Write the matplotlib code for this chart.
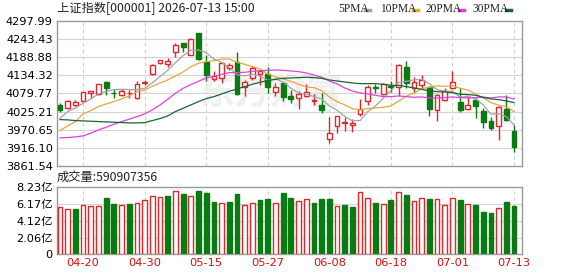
import numpy as np
import matplotlib
matplotlib.use('Agg')
import matplotlib.pyplot as plt
from matplotlib.lines import Line2D

# daily K-line (60 sessions)
opens = [4044, 4036, 4046, 4058, 4080, 4078, 4113, 4082, 4076, 4080,
         4066, 4110, 4138, 4170, 4167, 4203, 4231, 4196, 4260, 4174,
         4123, 4126, 4155, 4173, 4099, 4126, 4138, 4139, 4084, 4111,
         4071, 4065, 4071, 4056, 4046, 3942, 3983, 3990, 3986, 4019,
         4056, 4099, 4078, 4101, 4100, 4159, 4096, 4106, 4099, 4029,
         4061, 4097, 4054, 4034, 4061, 4026, 3998, 3983, 4034, 3968]
highs = [4051, 4061, 4060, 4084, 4088, 4109, 4118, 4094, 4094, 4091,
         4116, 4120, 4169, 4181, 4185, 4232, 4232, 4246, 4262, 4194,
         4146, 4173, 4170, 4203, 4119, 4161, 4152, 4160, 4111, 4113,
         4091, 4086, 4108, 4078, 4081, 4009, 4013, 4010, 4003, 4063,
         4106, 4109, 4111, 4118, 4168, 4177, 4128, 4135, 4101, 4079,
         4095, 4146, 4096, 4072, 4066, 4036, 4010, 4042, 4076, 3984]
lows = [4024, 4033, 4041, 4056, 4066, 4076, 4075, 4066, 4071, 4066,
        4064, 4104, 4134, 4168, 4159, 4190, 4204, 4194, 4180, 4117,
        4116, 4111, 4150, 4076, 4071, 4120, 4106, 4082, 4071, 4056,
        4051, 4034, 4070, 4046, 4020, 3931, 3961, 3966, 3964, 4011,
        4045, 4081, 4076, 4083, 4072, 4095, 4080, 4094, 4011, 3996,
        4057, 4094, 4025, 4031, 4007, 3976, 3971, 3941, 3996, 3903]
closes = [4031, 4058, 4055, 4083, 4087, 4108, 4096, 4080, 4088, 4082,
          4109, 4114, 4164, 4179, 4177, 4226, 4219, 4244, 4183, 4136,
          4133, 4171, 4164, 4078, 4114, 4156, 4148, 4098, 4099, 4068,
          4064, 4077, 4083, 4059, 4031, 3962, 4011, 3993, 3990, 4032,
          4099, 4096, 4108, 4098, 4166, 4112, 4114, 4120, 4032, 4076,
          4088, 4114, 4030, 4046, 4043, 3993, 3975, 4040, 3999, 3918]
prev_close = 4020

# volume in 亿
volumes = [5.77, 5.53, 5.53, 6.05, 5.93, 5.93, 6.91, 6.18, 6.05, 6.18,
           6.26, 6.67, 7.16, 7.00, 7.16, 7.74, 7.40, 7.16, 7.77, 7.53,
           6.42, 6.30, 6.42, 7.40, 6.05, 6.26, 6.67, 6.79, 6.30, 7.53,
           6.95, 6.55, 6.79, 6.30, 6.79, 6.79, 5.93, 6.05, 5.85, 7.61,
           6.91, 6.30, 6.18, 6.67, 7.65, 7.32, 6.55, 6.87, 6.79, 6.79,
           6.05, 6.91, 6.67, 6.18, 6.05, 5.19, 5.07, 5.69, 6.42, 5.91]
last_volume = 590907356

# moving averages
ma5 = [4005, 4025, 4036, 4050, 4063, 4078, 4086, 4091, 4092, 4091,
       4091, 4095, 4111, 4130, 4149, 4172, 4193, 4209, 4210, 4202,
       4183, 4173, 4157, 4136, 4132, 4137, 4132, 4119, 4123, 4114,
       4095, 4081, 4078, 4070, 4063, 4042, 4029, 4011, 3997, 3998,
       4025, 4042, 4065, 4087, 4113, 4116, 4120, 4122, 4109, 4091,
       4086, 4086, 4068, 4071, 4064, 4045, 4017, 4019, 4010, 3985]
ma10 = [3968, 3982, 3995, 4018, 4028, 4040, 4048, 4055, 4063, 4072,
        4085, 4090, 4101, 4111, 4120, 4132, 4144, 4160, 4170, 4175,
        4178, 4183, 4183, 4173, 4167, 4160, 4153, 4138, 4130, 4123,
        4116, 4107, 4099, 4097, 4088, 4069, 4055, 4045, 4034, 4030,
        4034, 4036, 4038, 4042, 4056, 4071, 4081, 4094, 4098, 4102,
        4101, 4103, 4095, 4090, 4078, 4066, 4052, 4044, 4040, 4025]
ma20 = [3946, 3947, 3949, 3952, 3960, 3970, 3978, 3987, 3995, 4002,
        4010, 4018, 4030, 4045, 4062, 4080, 4095, 4106, 4116, 4126,
        4131, 4137, 4142, 4142, 4143, 4146, 4148, 4149, 4150, 4149,
        4147, 4145, 4141, 4135, 4128, 4117, 4108, 4096, 4087, 4081,
        4078, 4074, 4070, 4070, 4072, 4070, 4068, 4069, 4066, 4066,
        4067, 4069, 4067, 4066, 4067, 4068, 4066, 4069, 4069, 4063]
ma30 = [4001, 4000, 3998, 3997, 3996, 3995, 3994, 3993, 3992, 3991,
        3991, 3992, 3998, 4004, 4012, 4025, 4035, 4045, 4055, 4064,
        4070, 4078, 4086, 4093, 4100, 4107, 4113, 4118, 4122, 4125,
        4126, 4127, 4128, 4127, 4125, 4120, 4117, 4114, 4111, 4109,
        4109, 4109, 4107, 4104, 4104, 4100, 4096, 4092, 4087, 4085,
        4084, 4082, 4077, 4076, 4074, 4068, 4063, 4061, 4057, 4052]

tick_idx = [3, 11, 19, 27, 35, 43, 51, 59]
tick_labels = ['04-20', '04-30', '05-15', '05-27', '06-08', '06-18', '07-01', '07-13']
price_ticks = [3861.54, 3916.10, 3970.65, 4025.21, 4079.77, 4134.32, 4188.88, 4243.43, 4297.99]
vol_ticks = [0, 2.06, 4.12, 6.17, 8.23]

RED = '#e0262b'
GREEN = '#0a7a12'
GRID = '#d4d4d4'
BOX = '#9a9a9a'
FONT = ['DejaVu Sans', 'Noto Sans CJK SC']
CJK = ['Noto Sans CJK SC', 'DejaVu Sans']

o = np.array(opens, float)
h = np.array(highs, float)
l = np.array(lows, float)
c = np.array(closes, float)
x = np.arange(len(c))
up = c >= o
vol_up = c >= np.concatenate([[prev_close], c[:-1]])

W, H = 578, 276
fig = plt.figure(figsize=(W / 100, H / 100), dpi=100)
ax = fig.add_axes([57 / W, 1 - 166 / H, 465 / W, 145.3 / H])
axv = fig.add_axes([57 / W, 1 - 254.3 / H, 465 / W, 67 / H])

for a in (ax, axv):
    a.set_xlim(-0.39, 60.04)
    for s in a.spines.values():
        s.set_color(BOX)
        s.set_linewidth(1)
    a.tick_params(length=0, labelsize=8.2, pad=3)
    for t in tick_idx:
        a.axvline(t, color='#cccccc', lw=0.8, ls=(0, (3, 3)), zorder=1)

# price panel
ax.set_ylim(price_ticks[0], price_ticks[-1])
ax.set_yticks(price_ticks)
ax.set_yticklabels(['%.2f' % v for v in price_ticks], family=FONT)
ax.set_xticks([])
for v in price_ticks[1:-1]:
    ax.axhline(v, color=GRID, lw=0.8, zorder=1)

ax.text(0.46, 0.5, '东方财富', transform=ax.transAxes, ha='center', va='center',
        fontsize=26, color='#f0f0f0', fontweight='bold', family=CJK, zorder=1.5)

cols = np.where(up, RED, GREEN)
ax.vlines(x, l, h, colors=cols, lw=1, zorder=3)
body_h = np.maximum(np.abs(c - o), 0.8)
ax.bar(x, body_h, bottom=np.minimum(o, c), width=0.62,
       color=np.where(up, 'white', GREEN), edgecolor=cols, linewidth=1, zorder=4)

ax.plot(x, ma5, color='#a3a3a3', lw=0.9, zorder=5)
ax.plot(x, ma10, color='#e8a53a', lw=0.9, zorder=5)
ax.plot(x, ma20, color='#e23fe2', lw=0.9, zorder=5)
ax.plot(x, ma30, color='#13663a', lw=0.9, zorder=5)

# volume panel
axv.set_ylim(0, vol_ticks[-1])
axv.set_yticks(vol_ticks)
axv.set_yticklabels(['0'] + ['%.2f亿' % v for v in vol_ticks[1:]], family=FONT)
for v in vol_ticks[1:-1]:
    axv.axhline(v, color=GRID, lw=0.8, zorder=1)
vcols = np.where(vol_up, RED, GREEN)
axv.bar(x, volumes, width=0.62, color=np.where(vol_up, 'white', GREEN),
        edgecolor=vcols, linewidth=1, zorder=3)
axv.set_xticks(tick_idx)
axv.set_xticklabels(tick_labels, color='#d01010', family=FONT)

# header texts
fig.text(57 / W, 1 - 9 / H, '上证指数[000001] 2026-07-13 15:00', ha='left', va='center',
         fontsize=8.8, family=CJK, color='#222222')
fig.text(57 / W, 1 - 177 / H, '成交量:%d' % last_volume, ha='left', va='center',
         fontsize=8.8, family=CJK, color='#222222')

legend = [('5PMA', 338, 365, '#a3a3a3'), ('10PMA', 380, 413, '#e8a53a'),
          ('20PMA', 426, 459, '#e23fe2'), ('30PMA', 472, 506, '#13663a')]
for name, tx, mx, col in legend:
    fig.text(tx / W, 1 - 9 / H, name, ha='left', va='center', fontsize=8.3,
             family='Liberation Serif', color='#222222')
    fig.add_artist(Line2D([mx / W, (mx + 5) / W], [1 - 10 / H, 1 - 10 / H],
                          color=col, lw=2.5, transform=fig.transFigure))

fig.savefig('out.png', dpi=100, facecolor='white')
